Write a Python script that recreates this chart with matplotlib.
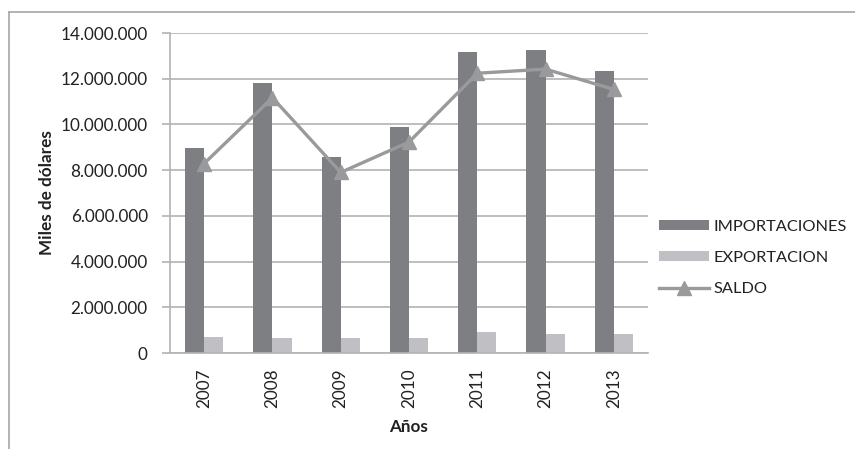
import numpy as np
import matplotlib
matplotlib.use("Agg")
from matplotlib import pyplot as plt
from matplotlib.lines import Line2D
from matplotlib.ticker import FuncFormatter

plt.rcParams['font.family'] = ['Lato', 'DejaVu Sans']

anios = ['2007', '2008', '2009', '2010', '2011', '2012', '2013']
importaciones = [8970000, 11810000, 8570000, 9890000, 13170000, 13250000, 12340000]
exportacion = [680000, 640000, 670000, 660000, 930000, 830000, 810000]
saldo = [8290000, 11170000, 7900000, 9230000, 12240000, 12420000, 11530000]

c_imp = '#7e7f83'
c_exp = '#c0c0c4'
c_sal = '#9a9a9c'
c_grid = '#b3b3b3'
c_txt = '#222222'

fig = plt.figure(figsize=(8.55, 4.49), dpi=100)
ax = fig.add_axes([170/855, 1-353/449, 478/855, 320/449])

x = np.arange(len(anios))
w = 0.28
b1 = ax.bar(x - w/2, importaciones, w, color=c_imp, label='IMPORTACIONES', zorder=2)
b2 = ax.bar(x + w/2, exportacion, w, color=c_exp, label='EXPORTACION', zorder=2)
l1, = ax.plot(x, saldo, color=c_sal, lw=2.4, marker='^', ms=10, label='SALDO', zorder=3)

ax.set_xlim(-0.5, len(anios) - 0.5)
ax.set_ylim(0, 14000000)
ax.set_yticks(np.arange(0, 14000001, 2000000))
ax.yaxis.set_major_formatter(FuncFormatter(lambda v, p: f'{int(v):,}'.replace(',', '.')))
ax.grid(axis='y', color=c_grid, lw=1.2, zorder=0)
ax.set_axisbelow(True)
ax.set_xticks(x)
ax.set_xticklabels(anios, rotation=90)

for s in ['top', 'right']:
    ax.spines[s].set_visible(False)
ax.spines['left'].set_color(c_grid)
ax.spines['bottom'].set_color(c_grid)
ax.spines['left'].set_linewidth(1.2)
ax.spines['bottom'].set_linewidth(1.2)
ax.tick_params(axis='y', length=6, color=c_grid, width=1.2, labelsize=12.3, pad=10, labelcolor=c_txt)
ax.tick_params(axis='x', length=0, labelsize=12.3, pad=11, labelcolor=c_txt)

ax.set_ylabel('Miles de dólares', fontsize=12.3, fontweight='bold', color=c_txt, labelpad=4)
ax.set_xlabel('Años', fontsize=12.3, fontweight='bold', color=c_txt, labelpad=8)

ax.legend([b1, b2, l1], ['IMPORTACIONES', 'EXPORTACION', 'SALDO'],
          loc='center left', bbox_to_anchor=(0.993, 0.297), frameon=False, fontsize=11.8,
          handlelength=3.0, handleheight=0.6, labelspacing=1.05, handletextpad=0.3,
          labelcolor=c_txt)

# chart border (only top and left edges show)
fig.add_artist(Line2D([9/855, 9/855], [0, 1-12/449], color='#a6a6a6', lw=1.2))
fig.add_artist(Line2D([9/855, 1], [1-12/449, 1-12/449], color='#a6a6a6', lw=1.2))

fig.savefig('out.png', dpi=100)
